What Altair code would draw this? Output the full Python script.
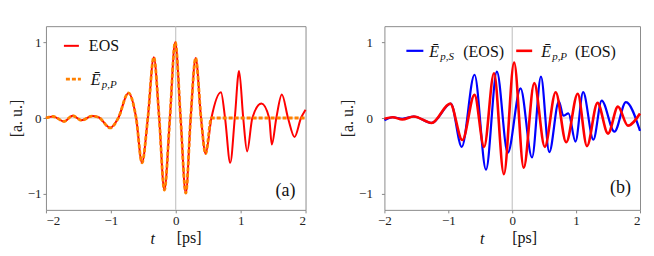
import altair as alt
import pandas as pd

# ---------------- data ----------------
# panel (a): EOS trace
eos_t = [-2.0, -1.89, -1.72, -1.59, -1.45, -1.29, -1.19, -1.01, -0.885, -0.73, -0.61,
         -0.52, -0.43, -0.338, -0.255, -0.175, -0.09, -0.008, 0.075, 0.155, 0.23,
         0.307, 0.39, 0.46, 0.55, 0.697, 0.76, 0.84, 0.91, 0.976, 1.04, 1.10, 1.18,
         1.32, 1.44, 1.48, 1.55, 1.635, 1.73, 1.83, 1.93, 2.0]
eos_v = [0.0, 0.02, -0.045, 0.03, -0.03, 0.025, 0.01, -0.13, 0.0, 0.33, 0.0,
         -0.59, 0.0, 0.80, 0.0, -0.95, 0.0, 1.0, 0.0, -0.99, 0.0,
         0.79, 0.0, -0.47, 0.0, 0.34, 0.0, -0.59, 0.0, 0.62, 0.0, -0.44, 0.0,
         0.19, 0.0, -0.35, 0.0, 0.31, 0.0, -0.25, 0.0, 0.11]
# panel (a): E_p,P (equal to EOS up to t = 0.55, zero afterwards)
epp_t = [-2.0, -1.89, -1.72, -1.59, -1.45, -1.29, -1.19, -1.01, -0.885, -0.73, -0.61,
         -0.52, -0.43, -0.338, -0.255, -0.175, -0.09, -0.008, 0.075, 0.155, 0.23,
         0.307, 0.39, 0.46, 0.55, 2.0]
epp_v = [0.0, 0.02, -0.045, 0.03, -0.03, 0.025, 0.01, -0.13, 0.0, 0.33, 0.0,
         -0.59, 0.0, 0.80, 0.0, -0.95, 0.0, 1.0, 0.0, -0.99, 0.0,
         0.79, 0.0, -0.47, 0.0, 0.0]

# panel (b): E_p,S (EOS)  blue
bs_t = [-2.0, -1.87, -1.72, -1.54, -1.26, -0.96, -0.79, -0.59, -0.41, -0.24, -0.07,
        0.13, 0.31, 0.45, 0.58, 0.73, 0.80, 0.88, 0.99, 1.11, 1.27, 1.40, 1.60,
        1.78, 2.0]
bs_v = [-0.03, 0.01, -0.01, 0.02, -0.065, 0.19, -0.38, 0.57, -0.68, 0.61, -0.46,
        0.39, -0.52, 0.545, -0.45, 0.22, 0.03, 0.06, -0.31, 0.34, -0.285, 0.23,
        -0.18, 0.21, -0.17]
# panel (b): E_p,P (EOS)  red
rp_t = [-2.0, -1.87, -1.72, -1.54, -1.26, -0.97, -0.78, -0.59, -0.44, -0.285, -0.13,
        0.03, 0.18, 0.345, 0.51, 0.68, 0.845, 1.025, 1.17, 1.335, 1.50, 1.655,
        1.81, 2.0]
rp_v = [-0.01, 0.01, -0.02, 0.02, -0.065, 0.19, -0.29, 0.305, -0.38, 0.59, -0.74,
        0.73, -0.655, 0.46, -0.38, 0.34, -0.32, 0.32, -0.37, 0.20, -0.205, 0.15,
        -0.10, 0.06]

x_ticks = [-2, -1, 0, 1, 2]
y_ticks = [-1, 0, 1]
x_domain = [-2, 2]
y_domain = [-1.21, 1.21]

FONT = "Liberation Serif"
W_A, W_B, H = 260, 256, 184

one = pd.DataFrame({"k": [0]})


def xy(t, v):
    return pd.DataFrame({"t": t, "v": v})


def axes(title_x, label_pad, right_flush):
    xa = dict(values=x_ticks, format="d", title=None, grid=False, domain=False, tickSize=3,
              tickColor="#888", labelFont=FONT, labelFontSize=13, labelColor="#222",
              labelPadding=2)
    if right_flush:
        xa["labelAlign"] = {"condition": {"test": "datum.value >= 1.5", "value": "right"},
                            "value": "center"}
    ya = dict(values=y_ticks, format="d", title="[a. u.]", titleX=title_x, titleY=H / 2,
              titleBaseline="middle", titleFont=FONT, titleFontSize=16,
              titleFontWeight="normal", titleColor="#222", grid=False, domain=False,
              tickSize=3, tickColor="#888", labelFont=FONT, labelFontSize=13,
              labelColor="#222", labelPadding=label_pad)
    return alt.Axis(**xa), alt.Axis(**ya)


def X(ax):
    return alt.X("t:Q", scale=alt.Scale(domain=x_domain, nice=False, zero=False), axis=ax)


def Y(ax):
    return alt.Y("v:Q", scale=alt.Scale(domain=y_domain, nice=False, zero=False), axis=ax)


def txt(s, x, y, size=16, italic=False, align="left"):
    return alt.Chart(one).mark_text(
        font=FONT, fontSize=size, fontStyle="italic" if italic else "normal",
        align=align, baseline="alphabetic", color="#111"
    ).encode(x=alt.value(x), y=alt.value(y), text=alt.value(s))


def sample(x1, x2, y, color, width, dash=None):
    kw = dict(color=color, strokeWidth=width)
    if dash:
        kw["strokeDash"] = dash
    return alt.Chart(one).mark_rule(**kw).encode(x=alt.value(x1), x2=alt.value(x2), y=alt.value(y))


def zero_lines():
    h = alt.Chart(one).mark_rule(color="#cfcfcf", strokeWidth=1.2).encode(y=alt.datum(0))
    v = alt.Chart(one).mark_rule(color="#bdbdbd", strokeWidth=1).encode(x=alt.datum(0))
    return h, v


# ---------------- panel (a) ----------------
xa, ya = axes(-29, 2, False)
base_a = alt.Chart(xy(eos_t, eos_v)).mark_line(
    color="#ff0000", strokeWidth=2, interpolate="monotone").encode(x=X(xa), y=Y(ya))
orange_a = alt.Chart(xy(epp_t, epp_v)).mark_line(
    color="#ff8000", strokeWidth=2.8, strokeDash=[4, 2], interpolate="monotone"
).encode(x=X(xa), y=Y(ya))
ha, va = zero_lines()
panel_a = alt.layer(
    ha, va, base_a, orange_a,
    sample(18, 33, 19.7, "#ff0000", 2),
    txt("EOS", 43, 24.7),
    sample(20, 35, 53, "#ff8000", 2.8, [4, 2]),
    txt("Ē", 45, 58.7, italic=True),
    txt("p,P", 56, 61.5, size=11, italic=True),
    txt("(a)", 230, 170, size=18),
    txt("t", 107, 218, italic=True, align="center"),
    txt("[ps]", 131, 217),
).properties(width=W_A, height=H)

# ---------------- panel (b) ----------------
xb, yb = axes(-37, 9, True)
blue_b = alt.Chart(xy(bs_t, bs_v)).mark_line(
    color="#0000ff", strokeWidth=2.2, interpolate="monotone").encode(x=X(xb), y=Y(yb))
red_b = alt.Chart(xy(rp_t, rp_v)).mark_line(
    color="#ff0000", strokeWidth=2.6, interpolate="monotone").encode(x=X(xb), y=Y(yb))
hb, vb = zero_lines()
panel_b = alt.layer(
    hb, vb, blue_b, red_b,
    sample(22, 39, 24.7, "#0000ff", 2.2),
    txt("Ē", 45, 31.3, italic=True),
    txt("p,S", 56, 33.8, size=11, italic=True),
    txt("(EOS)", 79, 31.3),
    sample(132, 148, 24.7, "#ff0000", 2.6),
    txt("Ē", 157, 31.3, italic=True),
    txt("p,P", 168, 33.8, size=11, italic=True),
    txt("(EOS)", 191, 31.3),
    txt("(b)", 226, 167, size=18),
    txt("t", 98, 218, italic=True, align="center"),
    txt("[ps]", 128, 217),
).properties(width=W_B, height=H)

chart = alt.hconcat(panel_a, panel_b, spacing=26).properties(
    padding={"left": 0, "top": 17, "right": 0, "bottom": 0}
).configure_view(stroke="#8c8c8c", strokeWidth=1).configure_axis(
    labelFont=FONT, titleFont=FONT
).configure_text(font=FONT)

chart.save("out.html", embed_options={"renderer": "svg", "actions": False})
